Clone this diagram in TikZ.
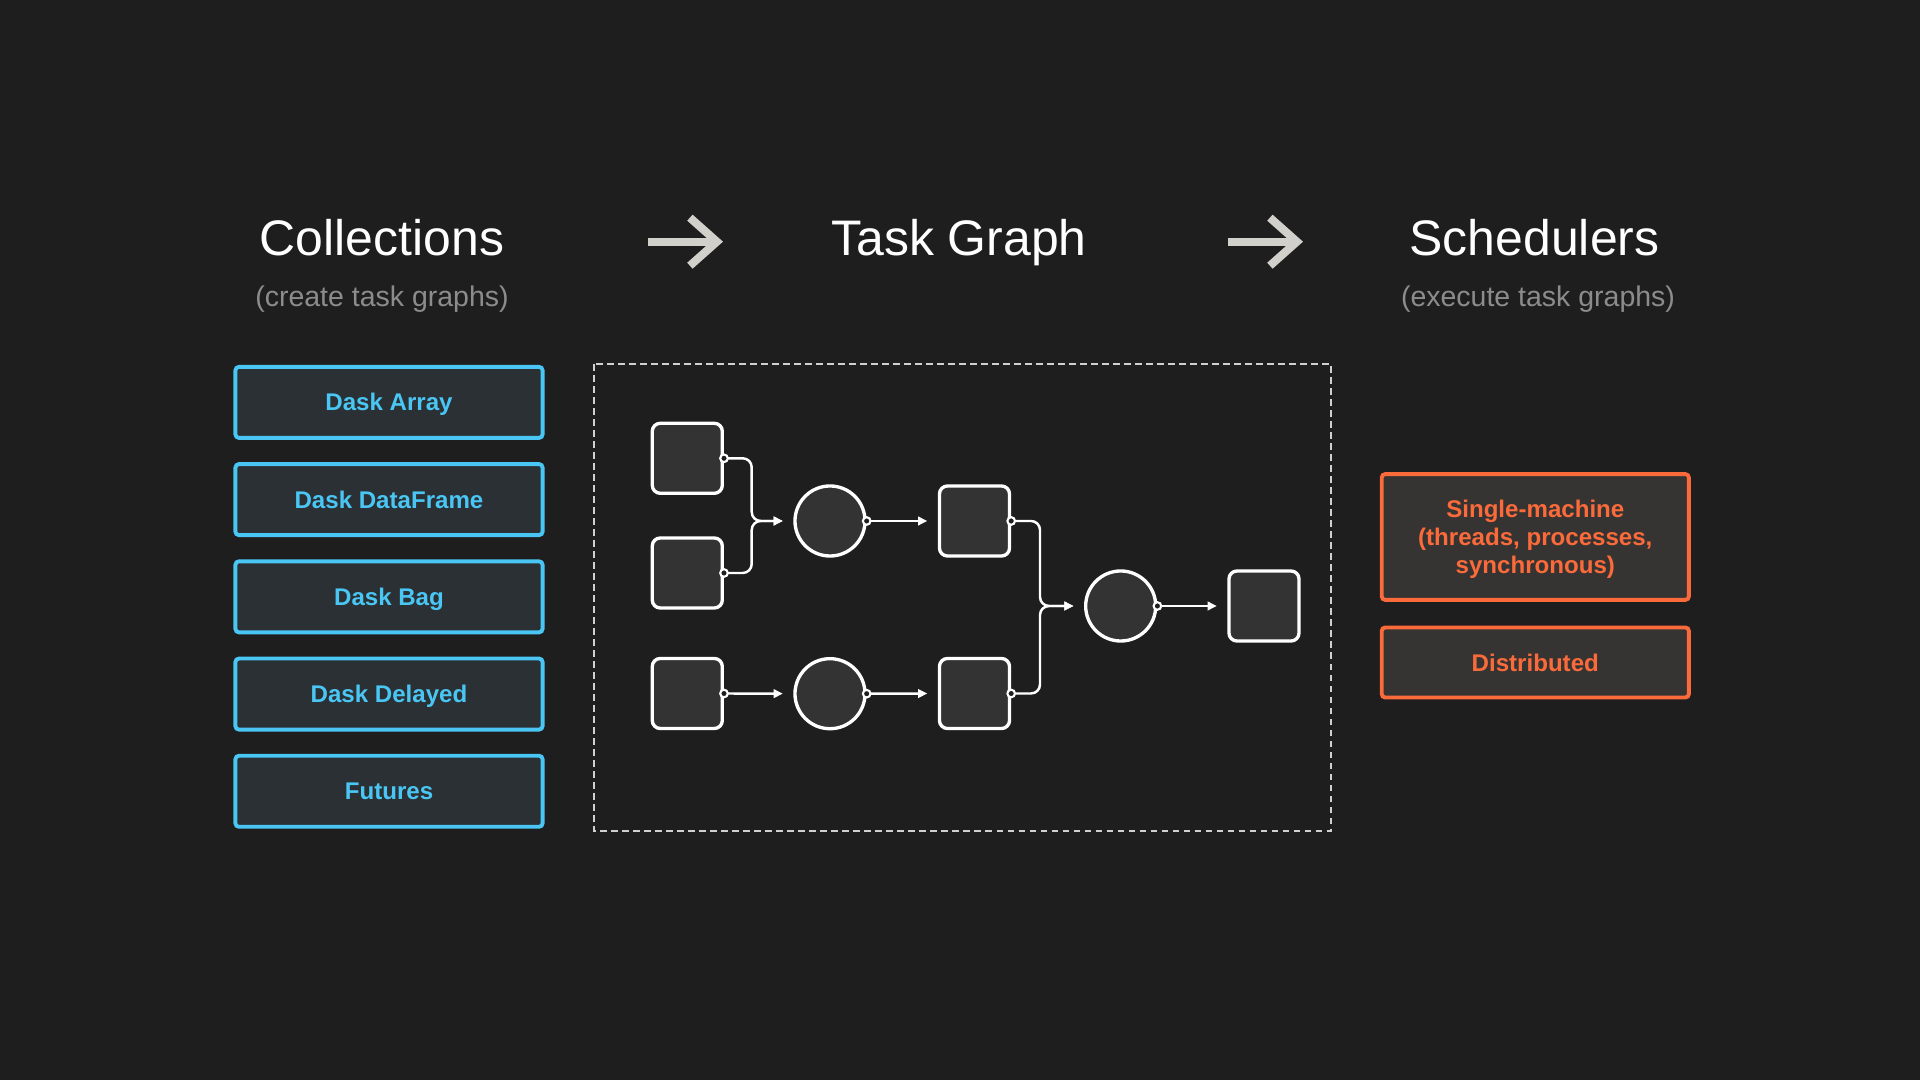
\documentclass[tikz,border=0pt]{standalone}
\usepackage{fontspec}
\setmainfont{Liberation Sans}
\usetikzlibrary{arrows.meta,positioning}

\definecolor{bg}{HTML}{1E1E1E}
\definecolor{taskfill}{HTML}{333333}
\definecolor{daskblue}{HTML}{4AC6F4}
\definecolor{bluefill}{HTML}{2A3034}
\definecolor{daskorange}{HTML}{FA6A3A}
\definecolor{orangefill}{HTML}{363432}
\definecolor{subgray}{HTML}{8C8C8C}
\definecolor{arrowgray}{HTML}{D2D0CB}
\definecolor{framegray}{HTML}{D0D0D0}

\begin{document}
\begin{tikzpicture}[x=0.01cm, y=-0.01cm,
  title/.style={text=white, anchor=base, inner sep=0pt, font=\fontsize{14.2}{17}\selectfont},
  subtitle/.style={text=subgray, anchor=base, inner sep=0pt, font=\fontsize{8.1}{9.7}\selectfont},
  collection/.style={draw=daskblue, fill=bluefill, line width=1.1pt, rounded corners=1pt,
    minimum width=3.07cm, minimum height=0.71cm, text=daskblue, text height=0.17cm, text depth=0pt,
    font=\bfseries\fontsize{6.85}{8}\selectfont},
  scheduler/.style={draw=daskorange, fill=orangefill, line width=1.1pt, rounded corners=1pt,
    minimum width=3.07cm, minimum height=0.70cm, text=daskorange, align=center, text depth=0pt,
    font=\bfseries\fontsize{6.85}{8}\selectfont},
  task/.style={draw=white, fill=taskfill, line width=0.95pt, rounded corners=0.08cm,
    minimum size=0.70cm, inner sep=0pt},
  op/.style={circle, draw=white, fill=taskfill, line width=0.95pt, minimum size=0.70cm, inner sep=0pt},
  wire/.style={draw=white, line width=0.7pt, rounded corners=0.09cm, shorten >=0.105cm,
    -{Triangle[length=2.6pt, width=2.4pt]}},
  port/.style={draw=white, fill=bg, line width=0.6pt},
  flow/.style={draw=arrowgray, line width=2.3pt, -{Straight Barb[length=0.27cm, width=0.48cm, sharp]}},
  frame/.style={draw=framegray, line width=0.8pt, dash pattern=on 0.067cm off 0.043cm}
]
\fill[bg] (0,0) rectangle (1920,1080);

% headings
\node[title] (colltitle) at (382,256) {Collections};
\node[subtitle] (collsub) at (382,307) {(create task graphs)};
\node[title] (graphtitle) at (959,256) {Task Graph};
\node[title] (schedtitle) at (1534.5,256) {Schedulers};
\node[subtitle] (schedsub) at (1538,307) {(execute task graphs)};

\coordinate (flow1a) at (648,241.7);
\coordinate (flow1b) at (723,241.7);
\coordinate (flow2a) at (1228,241.7);
\coordinate (flow2b) at (1303,241.7);
\draw[flow] (flow1a) -- (flow1b);
\draw[flow] (flow2a) -- (flow2b);

% collections
\node[collection] (array) at (389,402.4) {Dask Array};
\node[collection, below=0.223cm of array] (dataframe) {Dask DataFrame};
\node[collection, below=0.223cm of dataframe] (bag) {Dask Bag};
\node[collection, below=0.223cm of bag] (delayed) {Dask Delayed};
\node[collection, below=0.223cm of delayed] (futures) {Futures};

% task graph
\draw[frame] (594,364) rectangle (1331,831);
\node[task] (t1) at (687.3,458.3) {};
\node[task] (t2) at (687.3,573) {};
\node[task] (t3) at (687.3,693.5) {};
\node[op] (f1) at (830,521) {};
\node[op] (f2) at (830,693.7) {};
\node[task] (t4) at (974.5,521) {};
\node[task] (t5) at (974.5,693.5) {};
\node[op] (f3) at (1120.7,606) {};
\node[task] (t6) at (1264,606) {};
\coordinate (j1) at (751.7,521);
\coordinate (j2) at (1040,606);

\draw[wire] (t1.east) -| (j1) -- (f1.west);
\draw[wire] (t2.east) -| (j1) -- (f1.west);
\draw[wire] (t3.east) -- (f2.west);
\draw[wire] (f1.east) -- (t4.west);
\draw[wire] (f2.east) -- (t5.west);
\draw[wire] (t4.east) -| (j2) -- (f3.west);
\draw[wire] (t5.east) -| (j2) -- (f3.west);
\draw[wire] (f3.east) -- (t6.west);
\foreach \n in {t1,t2,t3,f1,f2,t4,t5,f3}
  \draw[port] (\n.east) circle (0.038cm);

% schedulers
\node[scheduler, minimum height=1.257cm] (single) at (1535.3,537) {Single-machine\\(threads, processes,\\synchronous)};
\node[scheduler] (distributed) at (1535.3,662.5) {Distributed};
\end{tikzpicture}
\end{document}
